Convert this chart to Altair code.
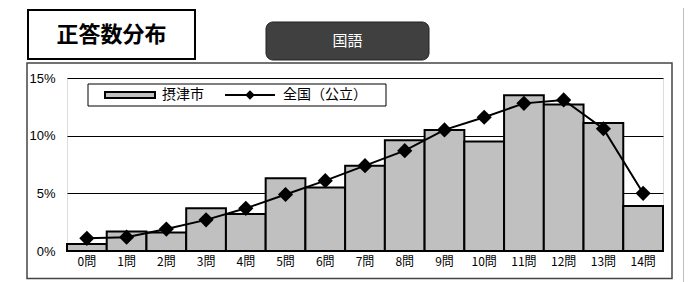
import altair as alt
import pandas as pd

categories = ["0問", "1問", "2問", "3問", "4問", "5問", "6問", "7問", "8問", "9問", "10問", "11問", "12問", "13問", "14問"]
city_values = [0.6, 1.7, 1.6, 3.7, 3.2, 6.3, 5.5, 7.4, 9.6, 10.5, 9.5, 13.5, 12.7, 11.1, 3.9]
national_values = [1.1, 1.2, 1.9, 2.7, 3.7, 4.9, 6.1, 7.4, 8.7, 10.5, 11.6, 12.8, 13.1, 10.6, 5.0]
y_ticks = [0, 5, 10, 15]
series_names = ["摂津市", "全国（公立）"]
title_text = "正答数分布"
subject_text = "国語"

df = pd.DataFrame({"cat": categories, "city": city_values, "nat": national_values})
one = pd.DataFrame({"a": [0]})

JP = "Noto Sans CJK JP"
W, H = 596, 173

x_enc = alt.X("cat:N", sort=categories,
              scale=alt.Scale(paddingInner=0, paddingOuter=0),
              axis=alt.Axis(title=None, labelAngle=0, domain=False, ticks=False,
                            labelPadding=5, labelFontSize=12, labelFont=JP,
                            labelColor="black"))
y_scale = alt.Scale(domain=[0, 15], nice=False)

bars = alt.Chart(df).mark_bar(color="#C0C0C0", stroke="black", strokeWidth=2).encode(
    x=x_enc,
    y=alt.Y("city:Q", scale=y_scale,
            axis=alt.Axis(title=None, values=y_ticks, labelExpr="datum.value + '%'",
                          domain=False, ticks=False, labelPadding=12, labelFontSize=13,
                          labelFont="Liberation Sans", labelColor="black",
                          grid=True, gridColor="black", gridWidth=1)),
)

line = alt.Chart(df).mark_line(color="black", strokeWidth=2).encode(
    x=alt.X("cat:N", sort=categories), y=alt.Y("nat:Q", scale=y_scale))
pts = alt.Chart(df).mark_point(shape="diamond", filled=True, color="black", size=230, opacity=1).encode(
    x=alt.X("cat:N", sort=categories), y=alt.Y("nat:Q", scale=y_scale))

def rect(x, x2, y, y2, **kw):
    return alt.Chart(one).mark_rect(**kw).encode(
        x=alt.value(x), x2=alt.value(x2), y=alt.value(y), y2=alt.value(y2))

def text(x, y, s, **kw):
    return alt.Chart(one).mark_text(**kw).encode(
        x=alt.value(x), y=alt.value(y), text=alt.value(s))

def hrule(x, x2, y, **kw):
    return alt.Chart(one).mark_rule(**kw).encode(
        x=alt.value(x), x2=alt.value(x2), y=alt.value(y))

outer = rect(-40, 605, -15, 200.5, fill="white", fillOpacity=0, stroke="#444444", strokeWidth=1.5)
right_rule = alt.Chart(one).mark_rule(color="black", strokeWidth=2.5).encode(
    x=alt.value(618), y=alt.value(-80), y2=alt.value(210))
title_box = rect(-39, 128, -68, -19, fill="white", stroke="black", strokeWidth=2)
title = text(44.5, -43, title_text, font=JP, fontSize=22, fontWeight="bold", color="black",
             align="center", baseline="middle")
subj_box = rect(199, 362, -56, -18, fill="#404040", stroke="#202020", strokeWidth=1, cornerRadius=7)
subj = text(280.5, -37, subject_text, font=JP, fontSize=15, color="white",
            align="center", baseline="middle")

leg_box = rect(21, 319, 6, 28, fill="white", stroke="black", strokeWidth=1)
leg_bar = rect(38, 88, 14, 20, fill="#C0C0C0", stroke="black", strokeWidth=2)
leg_t1 = text(95, 17, series_names[0], font=JP, fontSize=14, color="black", align="left", baseline="middle")
leg_line = hrule(158, 208, 17, color="black", strokeWidth=2)
leg_pt = alt.Chart(one).mark_point(shape="diamond", filled=True, color="black", size=90, opacity=1).encode(
    x=alt.value(183), y=alt.value(17))
leg_t2 = text(216, 17, series_names[1], font=JP, fontSize=14, color="black", align="left", baseline="middle")

chart = alt.layer(
    outer, bars, line, pts, right_rule, title_box, title, subj_box, subj,
    leg_box, leg_bar, leg_t1, leg_line, leg_pt, leg_t2
).properties(
    width=W, height=H,
    autosize=alt.AutoSizeParams(type="none"),
    padding={"left": 59, "top": 70, "right": 21, "bottom": 31},
).configure_view(stroke="black", strokeWidth=2.5).configure(background="white")

chart.save("out.html", embed_options={"renderer": "svg", "actions": False})
